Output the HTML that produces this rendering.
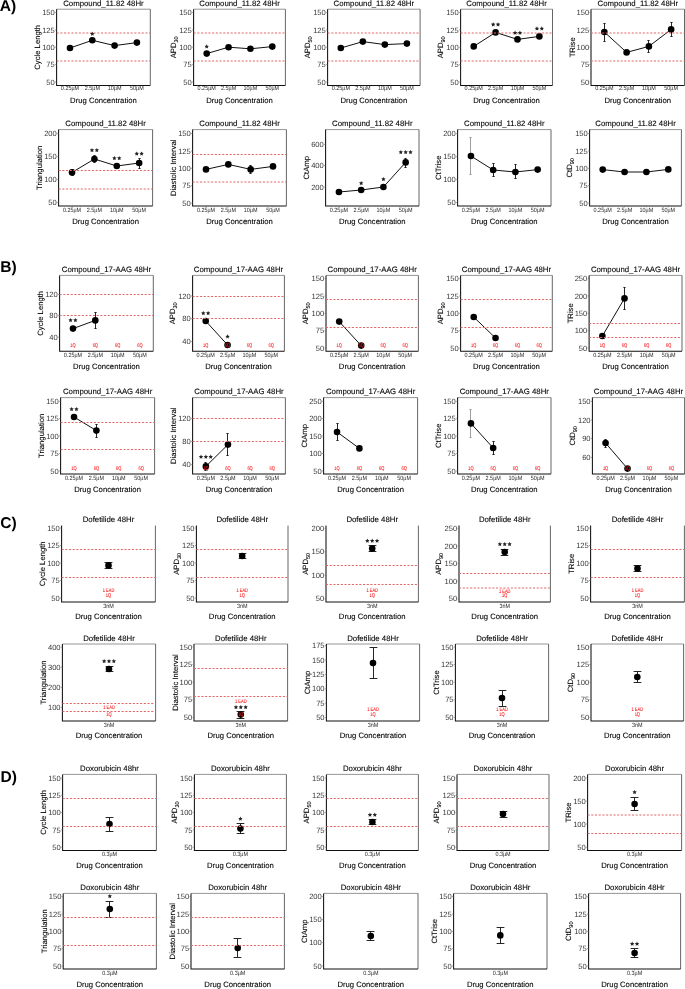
<!DOCTYPE html>
<html><head><meta charset="utf-8"><title>figure</title><style>
html,body{margin:0;padding:0;background:#fff;}
svg{display:block;will-change:transform;}
text{font-family:"Liberation Sans", sans-serif;text-rendering:geometricPrecision;}
.rd{stroke:#e26969;stroke-width:1;stroke-dasharray:2.1 1.6;}
.fr{stroke:#8a8a8a;stroke-width:0.9}
.fr2{stroke:#555;stroke-width:0.9}
.ax{stroke:#111;stroke-width:1.05;fill:none}
.tk{stroke:#666;stroke-width:0.6}
.tl{font-size:7.6px;fill:#383838;text-anchor:end}
.xl{font-size:5.45px;fill:#2a2a2a;text-anchor:middle}
.ti{font-size:7.8px;fill:#000;stroke:#000;stroke-width:0.1;text-anchor:middle}
.xt{font-size:7.7px;fill:#000;stroke:#000;stroke-width:0.1;text-anchor:middle}
.yt{font-size:7.7px;fill:#000;stroke:#000;stroke-width:0.1;text-anchor:middle}
.sb{font-size:5.6px}
.ln{stroke:#111;stroke-width:1;fill:none}
.eb{stroke:#1a1a1a;stroke-width:0.95;fill:none}
circle{fill:#000}
.st{font-size:10.5px;fill:#111;text-anchor:middle;letter-spacing:1.1px}
.q{font-size:4.0px;fill:#ff1a1a;stroke:#ff1a1a;stroke-width:0.06;text-anchor:middle}
.lb{font-size:15.6px;font-weight:bold;fill:#000}
</style></head>
<body><svg width="685" height="989" viewBox="0 0 685 989">
<defs><polygon id="star" points="0.000,-2.070 0.676,-0.700 2.187,-0.481 1.094,0.585 1.352,2.091 0.000,1.380 -1.352,2.091 -1.094,0.585 -2.187,-0.481 -0.676,-0.700" fill="#262626"/></defs>
<g><line x1="56.6" y1="9.2" x2="150.3" y2="9.2" class="fr"/><line x1="150.3" y1="9.2" x2="150.3" y2="85.4" class="fr2"/><path d="M56.6 9.2V85.4H150.3" class="ax"/><line x1="55" y1="12.5" x2="56.6" y2="12.5" class="tk"/><text x="54.8" y="15.1" class="tl">150</text><line x1="55" y1="29.9" x2="56.6" y2="29.9" class="tk"/><text x="54.8" y="32.5" class="tl">125</text><line x1="55" y1="47.2" x2="56.6" y2="47.2" class="tk"/><text x="54.8" y="49.8" class="tl">100</text><line x1="55" y1="64.6" x2="56.6" y2="64.6" class="tk"/><text x="54.8" y="67.2" class="tl">75</text><line x1="55" y1="82" x2="56.6" y2="82" class="tk"/><text x="54.8" y="84.6" class="tl">50</text><line x1="69.99" y1="85.4" x2="69.99" y2="86.8" class="tk"/><text transform="translate(69.99,90.3) scale(1,1.12)" class="xl">0.25µM</text><line x1="92.3" y1="85.4" x2="92.3" y2="86.8" class="tk"/><text transform="translate(92.3,90.3) scale(1,1.12)" class="xl">2.5µM</text><line x1="114.6" y1="85.4" x2="114.6" y2="86.8" class="tk"/><text transform="translate(114.6,90.3) scale(1,1.12)" class="xl">10µM</text><line x1="136.91" y1="85.4" x2="136.91" y2="86.8" class="tk"/><text transform="translate(136.91,90.3) scale(1,1.12)" class="xl">50µM</text><text x="103.45" y="5.8" class="ti">Compound_11.82 48Hr</text><text x="103.45" y="102.9" class="xt">Drug Concentration</text><text transform="translate(40.3,47.3) rotate(-90)" class="yt">Cycle Length</text><path d="M69.99 48 L92.3 40.3 L114.6 45.6 L136.91 42.6" class="ln"/><circle cx="69.99" cy="48" r="3.3"/><circle cx="92.3" cy="40.3" r="3.3"/><circle cx="114.6" cy="45.6" r="3.3"/><circle cx="136.91" cy="42.6" r="3.3"/><line x1="56.6" y1="33" x2="150.3" y2="33" class="rd"/><line x1="56.6" y1="61" x2="150.3" y2="61" class="rd"/><use href="#star" x="92.3" y="33.6"/></g>
<g><line x1="193.6" y1="9.2" x2="285.4" y2="9.2" class="fr"/><line x1="285.4" y1="9.2" x2="285.4" y2="85.4" class="fr2"/><path d="M193.6 9.2V85.4H285.4" class="ax"/><line x1="192" y1="12.5" x2="193.6" y2="12.5" class="tk"/><text x="191.8" y="15.1" class="tl">150</text><line x1="192" y1="29.9" x2="193.6" y2="29.9" class="tk"/><text x="191.8" y="32.5" class="tl">125</text><line x1="192" y1="47.2" x2="193.6" y2="47.2" class="tk"/><text x="191.8" y="49.8" class="tl">100</text><line x1="192" y1="64.6" x2="193.6" y2="64.6" class="tk"/><text x="191.8" y="67.2" class="tl">75</text><line x1="192" y1="82" x2="193.6" y2="82" class="tk"/><text x="191.8" y="84.6" class="tl">50</text><line x1="206.71" y1="85.4" x2="206.71" y2="86.8" class="tk"/><text transform="translate(206.71,90.3) scale(1,1.12)" class="xl">0.25µM</text><line x1="228.57" y1="85.4" x2="228.57" y2="86.8" class="tk"/><text transform="translate(228.57,90.3) scale(1,1.12)" class="xl">2.5µM</text><line x1="250.43" y1="85.4" x2="250.43" y2="86.8" class="tk"/><text transform="translate(250.43,90.3) scale(1,1.12)" class="xl">10µM</text><line x1="272.29" y1="85.4" x2="272.29" y2="86.8" class="tk"/><text transform="translate(272.29,90.3) scale(1,1.12)" class="xl">50µM</text><text x="239.5" y="5.8" class="ti">Compound_11.82 48Hr</text><text x="239.5" y="102.9" class="xt">Drug Concentration</text><text transform="translate(176,47.3) rotate(-90)" class="yt">APD<tspan class="sb" dy="1.8">30</tspan></text><path d="M206.71 53.6 L228.57 47.2 L250.43 48.8 L272.29 46.6" class="ln"/><circle cx="206.71" cy="53.6" r="3.3"/><circle cx="228.57" cy="47.2" r="3.3"/><circle cx="250.43" cy="48.8" r="3.3"/><circle cx="272.29" cy="46.6" r="3.3"/><line x1="193.6" y1="33" x2="285.4" y2="33" class="rd"/><line x1="193.6" y1="61" x2="285.4" y2="61" class="rd"/><use href="#star" x="206.71" y="46.4"/></g>
<g><line x1="327.6" y1="9.2" x2="420.1" y2="9.2" class="fr"/><line x1="420.1" y1="9.2" x2="420.1" y2="85.4" class="fr2"/><path d="M327.6 9.2V85.4H420.1" class="ax"/><line x1="326" y1="12.5" x2="327.6" y2="12.5" class="tk"/><text x="325.8" y="15.1" class="tl">150</text><line x1="326" y1="29.9" x2="327.6" y2="29.9" class="tk"/><text x="325.8" y="32.5" class="tl">125</text><line x1="326" y1="47.2" x2="327.6" y2="47.2" class="tk"/><text x="325.8" y="49.8" class="tl">100</text><line x1="326" y1="64.6" x2="327.6" y2="64.6" class="tk"/><text x="325.8" y="67.2" class="tl">75</text><line x1="326" y1="82" x2="327.6" y2="82" class="tk"/><text x="325.8" y="84.6" class="tl">50</text><line x1="340.81" y1="85.4" x2="340.81" y2="86.8" class="tk"/><text transform="translate(340.81,90.3) scale(1,1.12)" class="xl">0.25µM</text><line x1="362.84" y1="85.4" x2="362.84" y2="86.8" class="tk"/><text transform="translate(362.84,90.3) scale(1,1.12)" class="xl">2.5µM</text><line x1="384.86" y1="85.4" x2="384.86" y2="86.8" class="tk"/><text transform="translate(384.86,90.3) scale(1,1.12)" class="xl">10µM</text><line x1="406.89" y1="85.4" x2="406.89" y2="86.8" class="tk"/><text transform="translate(406.89,90.3) scale(1,1.12)" class="xl">50µM</text><text x="373.85" y="5.8" class="ti">Compound_11.82 48Hr</text><text x="373.85" y="102.9" class="xt">Drug Concentration</text><text transform="translate(310,47.3) rotate(-90)" class="yt">APD<tspan class="sb" dy="1.8">50</tspan></text><path d="M340.81 48 L362.84 41.6 L384.86 44.6 L406.89 43.6" class="ln"/><circle cx="340.81" cy="48" r="3.3"/><circle cx="362.84" cy="41.6" r="3.3"/><circle cx="384.86" cy="44.6" r="3.3"/><circle cx="406.89" cy="43.6" r="3.3"/><line x1="327.6" y1="33" x2="420.1" y2="33" class="rd"/><line x1="327.6" y1="61" x2="420.1" y2="61" class="rd"/></g>
<g><line x1="460.6" y1="9.2" x2="552.5" y2="9.2" class="fr"/><line x1="552.5" y1="9.2" x2="552.5" y2="85.4" class="fr2"/><path d="M460.6 9.2V85.4H552.5" class="ax"/><line x1="459" y1="12.5" x2="460.6" y2="12.5" class="tk"/><text x="458.8" y="15.1" class="tl">150</text><line x1="459" y1="29.9" x2="460.6" y2="29.9" class="tk"/><text x="458.8" y="32.5" class="tl">125</text><line x1="459" y1="47.2" x2="460.6" y2="47.2" class="tk"/><text x="458.8" y="49.8" class="tl">100</text><line x1="459" y1="64.6" x2="460.6" y2="64.6" class="tk"/><text x="458.8" y="67.2" class="tl">75</text><line x1="459" y1="82" x2="460.6" y2="82" class="tk"/><text x="458.8" y="84.6" class="tl">50</text><line x1="473.73" y1="85.4" x2="473.73" y2="86.8" class="tk"/><text transform="translate(473.73,90.3) scale(1,1.12)" class="xl">0.25µM</text><line x1="495.61" y1="85.4" x2="495.61" y2="86.8" class="tk"/><text transform="translate(495.61,90.3) scale(1,1.12)" class="xl">2.5µM</text><line x1="517.49" y1="85.4" x2="517.49" y2="86.8" class="tk"/><text transform="translate(517.49,90.3) scale(1,1.12)" class="xl">10µM</text><line x1="539.37" y1="85.4" x2="539.37" y2="86.8" class="tk"/><text transform="translate(539.37,90.3) scale(1,1.12)" class="xl">50µM</text><text x="506.55" y="5.8" class="ti">Compound_11.82 48Hr</text><text x="506.55" y="102.9" class="xt">Drug Concentration</text><text transform="translate(443,47.3) rotate(-90)" class="yt">APD<tspan class="sb" dy="1.8">90</tspan></text><path d="M473.73 46.4 L495.61 32.4 L517.49 39.4 L539.37 36.4" class="ln"/><circle cx="473.73" cy="46.4" r="3.3"/><circle cx="495.61" cy="32.4" r="3.3"/><circle cx="517.49" cy="39.4" r="3.3"/><circle cx="539.37" cy="36.4" r="3.3"/><line x1="460.6" y1="33" x2="552.5" y2="33" class="rd"/><line x1="460.6" y1="61" x2="552.5" y2="61" class="rd"/><use href="#star" x="493.18" y="24.3"/><use href="#star" x="498.03" y="24.3"/><use href="#star" x="515.07" y="32.6"/><use href="#star" x="519.92" y="32.6"/><use href="#star" x="536.95" y="28.4"/><use href="#star" x="541.8" y="28.4"/></g>
<g><line x1="591" y1="9.2" x2="684.5" y2="9.2" class="fr"/><line x1="684.5" y1="9.2" x2="684.5" y2="85.4" class="fr2"/><path d="M591 9.2V85.4H684.5" class="ax"/><line x1="589.4" y1="12.5" x2="591" y2="12.5" class="tk"/><text x="589.2" y="15.1" class="tl">150</text><line x1="589.4" y1="29.9" x2="591" y2="29.9" class="tk"/><text x="589.2" y="32.5" class="tl">125</text><line x1="589.4" y1="47.2" x2="591" y2="47.2" class="tk"/><text x="589.2" y="49.8" class="tl">100</text><line x1="589.4" y1="64.6" x2="591" y2="64.6" class="tk"/><text x="589.2" y="67.2" class="tl">75</text><line x1="589.4" y1="82" x2="591" y2="82" class="tk"/><text x="589.2" y="84.6" class="tl">50</text><line x1="604.36" y1="85.4" x2="604.36" y2="86.8" class="tk"/><text transform="translate(604.36,90.3) scale(1,1.12)" class="xl">0.25µM</text><line x1="626.62" y1="85.4" x2="626.62" y2="86.8" class="tk"/><text transform="translate(626.62,90.3) scale(1,1.12)" class="xl">2.5µM</text><line x1="648.88" y1="85.4" x2="648.88" y2="86.8" class="tk"/><text transform="translate(648.88,90.3) scale(1,1.12)" class="xl">10µM</text><line x1="671.14" y1="85.4" x2="671.14" y2="86.8" class="tk"/><text transform="translate(671.14,90.3) scale(1,1.12)" class="xl">50µM</text><text x="637.75" y="5.8" class="ti">Compound_11.82 48Hr</text><text x="637.75" y="102.9" class="xt">Drug Concentration</text><text transform="translate(574.7,47.3) rotate(-90)" class="yt">TRise</text><path d="M604.36 32 L626.62 52.4 L648.88 46.4 L671.14 29.4" class="ln"/><path d="M603.39 23.5H605.61M604.5 23.5V41.5M603.39 41.5H605.61" class="eb"/><path d="M647.39 40.5H649.61M648.5 40.5V52.5M647.39 52.5H649.61" class="eb"/><path d="M670.39 22.5H672.61M671.5 22.5V36.5M670.39 36.5H672.61" class="eb"/><circle cx="604.36" cy="32" r="3.3"/><circle cx="626.62" cy="52.4" r="3.3"/><circle cx="648.88" cy="46.4" r="3.3"/><circle cx="671.14" cy="29.4" r="3.3"/><line x1="591" y1="33" x2="684.5" y2="33" class="rd"/><line x1="591" y1="61" x2="684.5" y2="61" class="rd"/></g>
<g><line x1="58.6" y1="129.6" x2="152.6" y2="129.6" class="fr"/><line x1="152.6" y1="129.6" x2="152.6" y2="206" class="fr2"/><path d="M58.6 129.6V206H152.6" class="ax"/><line x1="57" y1="133.6" x2="58.6" y2="133.6" class="tk"/><text x="56.8" y="136.2" class="tl">200</text><line x1="57" y1="156.6" x2="58.6" y2="156.6" class="tk"/><text x="56.8" y="159.2" class="tl">150</text><line x1="57" y1="179.6" x2="58.6" y2="179.6" class="tk"/><text x="56.8" y="182.2" class="tl">100</text><line x1="57" y1="202.6" x2="58.6" y2="202.6" class="tk"/><text x="56.8" y="205.2" class="tl">50</text><line x1="72.03" y1="206" x2="72.03" y2="207.4" class="tk"/><text transform="translate(72.03,211.7) scale(1,1.12)" class="xl">0.25µM</text><line x1="94.41" y1="206" x2="94.41" y2="207.4" class="tk"/><text transform="translate(94.41,211.7) scale(1,1.12)" class="xl">2.5µM</text><line x1="116.79" y1="206" x2="116.79" y2="207.4" class="tk"/><text transform="translate(116.79,211.7) scale(1,1.12)" class="xl">10µM</text><line x1="139.17" y1="206" x2="139.17" y2="207.4" class="tk"/><text transform="translate(139.17,211.7) scale(1,1.12)" class="xl">50µM</text><text x="105.6" y="126.2" class="ti">Compound_11.82 48Hr</text><text x="105.6" y="223.5" class="xt">Drug Concentration</text><text transform="translate(42.3,167.8) rotate(-90)" class="yt">Triangulation</text><path d="M72.03 172.4 L94.41 159 L116.79 166 L139.17 163" class="ln"/><path d="M71.38 169.5H73.62M72.5 169.5V175.5M71.38 175.5H73.62" class="eb"/><path d="M93.38 155.5H95.62M94.5 155.5V162.5M93.38 162.5H95.62" class="eb"/><path d="M138.38 158.5H140.62M139.5 158.5V168.5M138.38 168.5H140.62" class="eb"/><circle cx="72.03" cy="172.4" r="3.3"/><circle cx="94.41" cy="159" r="3.3"/><circle cx="116.79" cy="166" r="3.3"/><circle cx="139.17" cy="163" r="3.3"/><line x1="58.6" y1="170.5" x2="152.6" y2="170.5" class="rd"/><line x1="58.6" y1="189" x2="152.6" y2="189" class="rd"/><use href="#star" x="91.98" y="150"/><use href="#star" x="96.83" y="150"/><use href="#star" x="114.37" y="158"/><use href="#star" x="119.22" y="158"/><use href="#star" x="136.75" y="153.5"/><use href="#star" x="141.6" y="153.5"/></g>
<g><line x1="192.6" y1="129.6" x2="286.4" y2="129.6" class="fr"/><line x1="286.4" y1="129.6" x2="286.4" y2="206" class="fr2"/><path d="M192.6 129.6V206H286.4" class="ax"/><line x1="191" y1="133.6" x2="192.6" y2="133.6" class="tk"/><text x="190.8" y="136.2" class="tl">150</text><line x1="191" y1="151" x2="192.6" y2="151" class="tk"/><text x="190.8" y="153.6" class="tl">125</text><line x1="191" y1="168.3" x2="192.6" y2="168.3" class="tk"/><text x="190.8" y="170.9" class="tl">100</text><line x1="191" y1="185.7" x2="192.6" y2="185.7" class="tk"/><text x="190.8" y="188.3" class="tl">75</text><line x1="191" y1="203" x2="192.6" y2="203" class="tk"/><text x="190.8" y="205.6" class="tl">50</text><line x1="206" y1="206" x2="206" y2="207.4" class="tk"/><text transform="translate(206,211.7) scale(1,1.12)" class="xl">0.25µM</text><line x1="228.33" y1="206" x2="228.33" y2="207.4" class="tk"/><text transform="translate(228.33,211.7) scale(1,1.12)" class="xl">2.5µM</text><line x1="250.67" y1="206" x2="250.67" y2="207.4" class="tk"/><text transform="translate(250.67,211.7) scale(1,1.12)" class="xl">10µM</text><line x1="273" y1="206" x2="273" y2="207.4" class="tk"/><text transform="translate(273,211.7) scale(1,1.12)" class="xl">50µM</text><text x="239.5" y="126.2" class="ti">Compound_11.82 48Hr</text><text x="239.5" y="223.5" class="xt">Drug Concentration</text><text transform="translate(176.3,167.8) rotate(-90)" class="yt">Diastolic Interval</text><path d="M206 169.4 L228.33 164.4 L250.67 169.4 L273 166.4" class="ln"/><path d="M249.38 165.5H251.62M250.5 165.5V173.5M249.38 173.5H251.62" class="eb"/><circle cx="206" cy="169.4" r="3.3"/><circle cx="228.33" cy="164.4" r="3.3"/><circle cx="250.67" cy="169.4" r="3.3"/><circle cx="273" cy="166.4" r="3.3"/><line x1="192.6" y1="154.5" x2="286.4" y2="154.5" class="rd"/><line x1="192.6" y1="182" x2="286.4" y2="182" class="rd"/></g>
<g><line x1="325.6" y1="129.6" x2="419" y2="129.6" class="fr"/><line x1="419" y1="129.6" x2="419" y2="206" class="fr2"/><path d="M325.6 129.6V206H419" class="ax"/><line x1="324" y1="144.4" x2="325.6" y2="144.4" class="tk"/><text x="323.8" y="147" class="tl">600</text><line x1="324" y1="165.6" x2="325.6" y2="165.6" class="tk"/><text x="323.8" y="168.2" class="tl">400</text><line x1="324" y1="187" x2="325.6" y2="187" class="tk"/><text x="323.8" y="189.6" class="tl">200</text><line x1="338.94" y1="206" x2="338.94" y2="207.4" class="tk"/><text transform="translate(338.94,211.7) scale(1,1.12)" class="xl">0.25µM</text><line x1="361.18" y1="206" x2="361.18" y2="207.4" class="tk"/><text transform="translate(361.18,211.7) scale(1,1.12)" class="xl">2.5µM</text><line x1="383.42" y1="206" x2="383.42" y2="207.4" class="tk"/><text transform="translate(383.42,211.7) scale(1,1.12)" class="xl">10µM</text><line x1="405.66" y1="206" x2="405.66" y2="207.4" class="tk"/><text transform="translate(405.66,211.7) scale(1,1.12)" class="xl">50µM</text><text x="372.3" y="126.2" class="ti">Compound_11.82 48Hr</text><text x="372.3" y="223.5" class="xt">Drug Concentration</text><text transform="translate(309.3,167.8) rotate(-90)" class="yt">CtAmp</text><path d="M338.94 192 L361.18 190 L383.42 187 L405.66 162.4" class="ln"/><path d="M404.39 158.5H406.61M405.5 158.5V167.5M404.39 167.5H406.61" class="eb"/><circle cx="338.94" cy="192" r="3.3"/><circle cx="361.18" cy="190" r="3.3"/><circle cx="383.42" cy="187" r="3.3"/><circle cx="405.66" cy="162.4" r="3.3"/><use href="#star" x="361.18" y="183"/><use href="#star" x="383.42" y="179"/><use href="#star" x="400.81" y="152"/><use href="#star" x="405.66" y="152"/><use href="#star" x="410.51" y="152"/></g>
<g><line x1="457.6" y1="129.6" x2="551" y2="129.6" class="fr"/><line x1="551" y1="129.6" x2="551" y2="206" class="fr2"/><path d="M457.6 129.6V206H551" class="ax"/><line x1="456" y1="133.6" x2="457.6" y2="133.6" class="tk"/><text x="455.8" y="136.2" class="tl">200</text><line x1="456" y1="156.6" x2="457.6" y2="156.6" class="tk"/><text x="455.8" y="159.2" class="tl">150</text><line x1="456" y1="179.6" x2="457.6" y2="179.6" class="tk"/><text x="455.8" y="182.2" class="tl">100</text><line x1="456" y1="202.6" x2="457.6" y2="202.6" class="tk"/><text x="455.8" y="205.2" class="tl">50</text><line x1="470.94" y1="206" x2="470.94" y2="207.4" class="tk"/><text transform="translate(470.94,211.7) scale(1,1.12)" class="xl">0.25µM</text><line x1="493.18" y1="206" x2="493.18" y2="207.4" class="tk"/><text transform="translate(493.18,211.7) scale(1,1.12)" class="xl">2.5µM</text><line x1="515.42" y1="206" x2="515.42" y2="207.4" class="tk"/><text transform="translate(515.42,211.7) scale(1,1.12)" class="xl">10µM</text><line x1="537.66" y1="206" x2="537.66" y2="207.4" class="tk"/><text transform="translate(537.66,211.7) scale(1,1.12)" class="xl">50µM</text><text x="504.3" y="126.2" class="ti">Compound_11.82 48Hr</text><text x="504.3" y="223.5" class="xt">Drug Concentration</text><text transform="translate(441.3,167.8) rotate(-90)" class="yt">CtTrise</text><path d="M470.94 156 L493.18 170 L515.42 172 L537.66 169.6" class="ln"/><path d="M469.39 137.5H471.61M470.5 137.5V174.5M469.39 174.5H471.61" class="eb" style="stroke:#999"/><path d="M492.39 163.5H494.61M493.5 163.5V176.5M492.39 176.5H494.61" class="eb"/><path d="M514.39 164.5H516.61M515.5 164.5V178.5M514.39 178.5H516.61" class="eb"/><circle cx="470.94" cy="156" r="3.3"/><circle cx="493.18" cy="170" r="3.3"/><circle cx="515.42" cy="172" r="3.3"/><circle cx="537.66" cy="169.6" r="3.3"/></g>
<g><line x1="589.6" y1="129.6" x2="681.4" y2="129.6" class="fr"/><line x1="681.4" y1="129.6" x2="681.4" y2="206" class="fr2"/><path d="M589.6 129.6V206H681.4" class="ax"/><line x1="588" y1="133.6" x2="589.6" y2="133.6" class="tk"/><text x="587.8" y="136.2" class="tl">150</text><line x1="588" y1="151" x2="589.6" y2="151" class="tk"/><text x="587.8" y="153.6" class="tl">125</text><line x1="588" y1="168.3" x2="589.6" y2="168.3" class="tk"/><text x="587.8" y="170.9" class="tl">100</text><line x1="588" y1="185.7" x2="589.6" y2="185.7" class="tk"/><text x="587.8" y="188.3" class="tl">75</text><line x1="588" y1="203" x2="589.6" y2="203" class="tk"/><text x="587.8" y="205.6" class="tl">50</text><line x1="602.71" y1="206" x2="602.71" y2="207.4" class="tk"/><text transform="translate(602.71,211.7) scale(1,1.12)" class="xl">0.25µM</text><line x1="624.57" y1="206" x2="624.57" y2="207.4" class="tk"/><text transform="translate(624.57,211.7) scale(1,1.12)" class="xl">2.5µM</text><line x1="646.43" y1="206" x2="646.43" y2="207.4" class="tk"/><text transform="translate(646.43,211.7) scale(1,1.12)" class="xl">10µM</text><line x1="668.29" y1="206" x2="668.29" y2="207.4" class="tk"/><text transform="translate(668.29,211.7) scale(1,1.12)" class="xl">50µM</text><text x="635.5" y="126.2" class="ti">Compound_11.82 48Hr</text><text x="635.5" y="223.5" class="xt">Drug Concentration</text><text transform="translate(572,167.8) rotate(-90)" class="yt">CtD<tspan class="sb" dy="1.8">90</tspan></text><path d="M602.71 169.6 L624.57 172 L646.43 172 L668.29 169.4" class="ln"/><circle cx="602.71" cy="169.6" r="3.3"/><circle cx="624.57" cy="172" r="3.3"/><circle cx="646.43" cy="172" r="3.3"/><circle cx="668.29" cy="169.4" r="3.3"/></g>
<g><line x1="59.6" y1="275.4" x2="153.3" y2="275.4" class="fr"/><line x1="153.3" y1="275.4" x2="153.3" y2="351.2" class="fr2"/><path d="M59.6 275.4V351.2H153.3" class="ax"/><line x1="58" y1="294.4" x2="59.6" y2="294.4" class="tk"/><text x="57.8" y="297" class="tl">120</text><line x1="58" y1="315.6" x2="59.6" y2="315.6" class="tk"/><text x="57.8" y="318.2" class="tl">80</text><line x1="58" y1="337" x2="59.6" y2="337" class="tk"/><text x="57.8" y="339.6" class="tl">40</text><line x1="72.99" y1="351.2" x2="72.99" y2="352.6" class="tk"/><text transform="translate(72.99,356.9) scale(1,1.12)" class="xl">0.25µM</text><line x1="95.3" y1="351.2" x2="95.3" y2="352.6" class="tk"/><text transform="translate(95.3,356.9) scale(1,1.12)" class="xl">2.5µM</text><line x1="117.6" y1="351.2" x2="117.6" y2="352.6" class="tk"/><text transform="translate(117.6,356.9) scale(1,1.12)" class="xl">10µM</text><line x1="139.91" y1="351.2" x2="139.91" y2="352.6" class="tk"/><text transform="translate(139.91,356.9) scale(1,1.12)" class="xl">50µM</text><text x="106.45" y="272" class="ti">Compound_17-AAG 48Hr</text><text x="106.45" y="368.7" class="xt">Drug Concentration</text><text transform="translate(43.3,313.3) rotate(-90)" class="yt">Cycle Length</text><path d="M72.99 328.6 L95.3 320.4" class="ln"/><path d="M94.38 312.5H96.62M95.5 312.5V328.5M94.38 328.5H96.62" class="eb"/><circle cx="72.99" cy="328.6" r="3.3"/><circle cx="95.3" cy="320.4" r="3.3"/><line x1="59.6" y1="294.5" x2="153.3" y2="294.5" class="rd"/><line x1="59.6" y1="315.5" x2="153.3" y2="315.5" class="rd"/><use href="#star" x="70.56" y="320"/><use href="#star" x="75.41" y="320"/><text transform="translate(72.99,346.5) scale(1,1.3)" class="q">1Q</text><text transform="translate(95.3,346.5) scale(1,1.3)" class="q">6Q</text><text transform="translate(117.6,346.5) scale(1,1.3)" class="q">6Q</text><text transform="translate(139.91,346.5) scale(1,1.3)" class="q">6Q</text></g>
<g><line x1="192.6" y1="275.4" x2="284.4" y2="275.4" class="fr"/><line x1="284.4" y1="275.4" x2="284.4" y2="351.2" class="fr2"/><path d="M192.6 275.4V351.2H284.4" class="ax"/><line x1="191" y1="296" x2="192.6" y2="296" class="tk"/><text x="190.8" y="298.6" class="tl">120</text><line x1="191" y1="318.6" x2="192.6" y2="318.6" class="tk"/><text x="190.8" y="321.2" class="tl">80</text><line x1="191" y1="341.6" x2="192.6" y2="341.6" class="tk"/><text x="190.8" y="344.2" class="tl">40</text><line x1="205.71" y1="351.2" x2="205.71" y2="352.6" class="tk"/><text transform="translate(205.71,356.9) scale(1,1.12)" class="xl">0.25µM</text><line x1="227.57" y1="351.2" x2="227.57" y2="352.6" class="tk"/><text transform="translate(227.57,356.9) scale(1,1.12)" class="xl">2.5µM</text><line x1="249.43" y1="351.2" x2="249.43" y2="352.6" class="tk"/><text transform="translate(249.43,356.9) scale(1,1.12)" class="xl">10µM</text><line x1="271.29" y1="351.2" x2="271.29" y2="352.6" class="tk"/><text transform="translate(271.29,356.9) scale(1,1.12)" class="xl">50µM</text><text x="238.5" y="272" class="ti">Compound_17-AAG 48Hr</text><text x="238.5" y="368.7" class="xt">Drug Concentration</text><text transform="translate(175,313.3) rotate(-90)" class="yt">APD<tspan class="sb" dy="1.8">30</tspan></text><path d="M205.71 321 L227.57 345" class="ln"/><circle cx="205.71" cy="321" r="3.3"/><circle cx="227.57" cy="345" r="3.3"/><line x1="192.6" y1="296.5" x2="284.4" y2="296.5" class="rd"/><line x1="192.6" y1="318.5" x2="284.4" y2="318.5" class="rd"/><use href="#star" x="203.29" y="313"/><use href="#star" x="208.14" y="313"/><use href="#star" x="227.57" y="336.4"/><text transform="translate(205.71,346.5) scale(1,1.3)" class="q">1Q</text><text transform="translate(227.57,346.5) scale(1,1.3)" class="q">6Q</text><text transform="translate(249.43,346.5) scale(1,1.3)" class="q">6Q</text><text transform="translate(271.29,346.5) scale(1,1.3)" class="q">6Q</text></g>
<g><line x1="326" y1="275.4" x2="418.4" y2="275.4" class="fr"/><line x1="418.4" y1="275.4" x2="418.4" y2="351.2" class="fr2"/><path d="M326 275.4V351.2H418.4" class="ax"/><line x1="324.4" y1="278.6" x2="326" y2="278.6" class="tk"/><text x="324.2" y="281.2" class="tl">150</text><line x1="324.4" y1="296" x2="326" y2="296" class="tk"/><text x="324.2" y="298.6" class="tl">125</text><line x1="324.4" y1="313.4" x2="326" y2="313.4" class="tk"/><text x="324.2" y="316" class="tl">100</text><line x1="324.4" y1="330.8" x2="326" y2="330.8" class="tk"/><text x="324.2" y="333.4" class="tl">75</text><line x1="324.4" y1="348" x2="326" y2="348" class="tk"/><text x="324.2" y="350.6" class="tl">50</text><line x1="339.2" y1="351.2" x2="339.2" y2="352.6" class="tk"/><text transform="translate(339.2,356.9) scale(1,1.12)" class="xl">0.25µM</text><line x1="361.2" y1="351.2" x2="361.2" y2="352.6" class="tk"/><text transform="translate(361.2,356.9) scale(1,1.12)" class="xl">2.5µM</text><line x1="383.2" y1="351.2" x2="383.2" y2="352.6" class="tk"/><text transform="translate(383.2,356.9) scale(1,1.12)" class="xl">10µM</text><line x1="405.2" y1="351.2" x2="405.2" y2="352.6" class="tk"/><text transform="translate(405.2,356.9) scale(1,1.12)" class="xl">50µM</text><text x="372.2" y="272" class="ti">Compound_17-AAG 48Hr</text><text x="372.2" y="368.7" class="xt">Drug Concentration</text><text transform="translate(308.4,313.3) rotate(-90)" class="yt">APD<tspan class="sb" dy="1.8">50</tspan></text><path d="M339.2 321.6 L361.2 345.6" class="ln"/><circle cx="339.2" cy="321.6" r="3.3"/><circle cx="361.2" cy="345.6" r="3.3"/><line x1="326" y1="299.5" x2="418.4" y2="299.5" class="rd"/><line x1="326" y1="327.5" x2="418.4" y2="327.5" class="rd"/><text transform="translate(339.2,346.5) scale(1,1.3)" class="q">1Q</text><text transform="translate(361.2,346.5) scale(1,1.3)" class="q">6Q</text><text transform="translate(383.2,346.5) scale(1,1.3)" class="q">6Q</text><text transform="translate(405.2,346.5) scale(1,1.3)" class="q">6Q</text></g>
<g><line x1="460.6" y1="275.4" x2="552.3" y2="275.4" class="fr"/><line x1="552.3" y1="275.4" x2="552.3" y2="351.2" class="fr2"/><path d="M460.6 275.4V351.2H552.3" class="ax"/><line x1="459" y1="278.6" x2="460.6" y2="278.6" class="tk"/><text x="458.8" y="281.2" class="tl">150</text><line x1="459" y1="296" x2="460.6" y2="296" class="tk"/><text x="458.8" y="298.6" class="tl">125</text><line x1="459" y1="313.4" x2="460.6" y2="313.4" class="tk"/><text x="458.8" y="316" class="tl">100</text><line x1="459" y1="330.8" x2="460.6" y2="330.8" class="tk"/><text x="458.8" y="333.4" class="tl">75</text><line x1="459" y1="348" x2="460.6" y2="348" class="tk"/><text x="458.8" y="350.6" class="tl">50</text><line x1="473.7" y1="351.2" x2="473.7" y2="352.6" class="tk"/><text transform="translate(473.7,356.9) scale(1,1.12)" class="xl">0.25µM</text><line x1="495.53" y1="351.2" x2="495.53" y2="352.6" class="tk"/><text transform="translate(495.53,356.9) scale(1,1.12)" class="xl">2.5µM</text><line x1="517.37" y1="351.2" x2="517.37" y2="352.6" class="tk"/><text transform="translate(517.37,356.9) scale(1,1.12)" class="xl">10µM</text><line x1="539.2" y1="351.2" x2="539.2" y2="352.6" class="tk"/><text transform="translate(539.2,356.9) scale(1,1.12)" class="xl">50µM</text><text x="506.45" y="272" class="ti">Compound_17-AAG 48Hr</text><text x="506.45" y="368.7" class="xt">Drug Concentration</text><text transform="translate(443,313.3) rotate(-90)" class="yt">APD<tspan class="sb" dy="1.8">90</tspan></text><path d="M473.7 317 L495.53 338" class="ln"/><circle cx="473.7" cy="317" r="3.3"/><circle cx="495.53" cy="338" r="3.3"/><line x1="460.6" y1="299.5" x2="552.3" y2="299.5" class="rd"/><line x1="460.6" y1="327.5" x2="552.3" y2="327.5" class="rd"/><text transform="translate(473.7,346.5) scale(1,1.3)" class="q">1Q</text><text transform="translate(495.53,346.5) scale(1,1.3)" class="q">6Q</text><text transform="translate(517.37,346.5) scale(1,1.3)" class="q">6Q</text><text transform="translate(539.2,346.5) scale(1,1.3)" class="q">6Q</text></g>
<g><line x1="589.1" y1="275.4" x2="682" y2="275.4" class="fr"/><line x1="682" y1="275.4" x2="682" y2="351.2" class="fr2"/><path d="M589.1 275.4V351.2H682" class="ax"/><line x1="587.5" y1="278.6" x2="589.1" y2="278.6" class="tk"/><text x="587.3" y="281.2" class="tl">250</text><line x1="587.5" y1="296" x2="589.1" y2="296" class="tk"/><text x="587.3" y="298.6" class="tl">200</text><line x1="587.5" y1="313.4" x2="589.1" y2="313.4" class="tk"/><text x="587.3" y="316" class="tl">150</text><line x1="587.5" y1="330.8" x2="589.1" y2="330.8" class="tk"/><text x="587.3" y="333.4" class="tl">100</text><line x1="587.5" y1="348" x2="589.1" y2="348" class="tk"/><text x="587.3" y="350.6" class="tl">50</text><line x1="602.37" y1="351.2" x2="602.37" y2="352.6" class="tk"/><text transform="translate(602.37,356.9) scale(1,1.12)" class="xl">0.25µM</text><line x1="624.49" y1="351.2" x2="624.49" y2="352.6" class="tk"/><text transform="translate(624.49,356.9) scale(1,1.12)" class="xl">2.5µM</text><line x1="646.61" y1="351.2" x2="646.61" y2="352.6" class="tk"/><text transform="translate(646.61,356.9) scale(1,1.12)" class="xl">10µM</text><line x1="668.73" y1="351.2" x2="668.73" y2="352.6" class="tk"/><text transform="translate(668.73,356.9) scale(1,1.12)" class="xl">50µM</text><text x="635.55" y="272" class="ti">Compound_17-AAG 48Hr</text><text x="635.55" y="368.7" class="xt">Drug Concentration</text><text transform="translate(572.8,313.3) rotate(-90)" class="yt">TRise</text><path d="M602.37 336 L624.49 298.4" class="ln"/><path d="M623.39 287.5H625.61M624.5 287.5V309.5M623.39 309.5H625.61" class="eb"/><circle cx="602.37" cy="336" r="3.3"/><circle cx="624.49" cy="298.4" r="3.3"/><line x1="589.1" y1="323.5" x2="682" y2="323.5" class="rd"/><line x1="589.1" y1="337.5" x2="682" y2="337.5" class="rd"/><text transform="translate(602.37,346.5) scale(1,1.3)" class="q">1Q</text><text transform="translate(624.49,346.5) scale(1,1.3)" class="q">6Q</text><text transform="translate(646.61,346.5) scale(1,1.3)" class="q">6Q</text><text transform="translate(668.73,346.5) scale(1,1.3)" class="q">6Q</text></g>
<g><line x1="60.6" y1="397.6" x2="154.6" y2="397.6" class="fr"/><line x1="154.6" y1="397.6" x2="154.6" y2="474" class="fr2"/><path d="M60.6 397.6V474H154.6" class="ax"/><line x1="59" y1="401.4" x2="60.6" y2="401.4" class="tk"/><text x="58.8" y="404" class="tl">150</text><line x1="59" y1="418.7" x2="60.6" y2="418.7" class="tk"/><text x="58.8" y="421.3" class="tl">125</text><line x1="59" y1="436" x2="60.6" y2="436" class="tk"/><text x="58.8" y="438.6" class="tl">100</text><line x1="59" y1="453.5" x2="60.6" y2="453.5" class="tk"/><text x="58.8" y="456.1" class="tl">75</text><line x1="59" y1="471" x2="60.6" y2="471" class="tk"/><text x="58.8" y="473.6" class="tl">50</text><line x1="74.03" y1="474" x2="74.03" y2="475.4" class="tk"/><text transform="translate(74.03,479.7) scale(1,1.12)" class="xl">0.25µM</text><line x1="96.41" y1="474" x2="96.41" y2="475.4" class="tk"/><text transform="translate(96.41,479.7) scale(1,1.12)" class="xl">2.5µM</text><line x1="118.79" y1="474" x2="118.79" y2="475.4" class="tk"/><text transform="translate(118.79,479.7) scale(1,1.12)" class="xl">10µM</text><line x1="141.17" y1="474" x2="141.17" y2="475.4" class="tk"/><text transform="translate(141.17,479.7) scale(1,1.12)" class="xl">50µM</text><text x="107.6" y="394.2" class="ti">Compound_17-AAG 48Hr</text><text x="107.6" y="491.5" class="xt">Drug Concentration</text><text transform="translate(44.3,435.8) rotate(-90)" class="yt">Triangulation</text><path d="M74.03 417 L96.41 430.6" class="ln"/><path d="M95.38 424.5H97.62M96.5 424.5V437.5M95.38 437.5H97.62" class="eb"/><circle cx="74.03" cy="417" r="3.3"/><circle cx="96.41" cy="430.6" r="3.3"/><line x1="60.6" y1="422.5" x2="154.6" y2="422.5" class="rd"/><line x1="60.6" y1="449.5" x2="154.6" y2="449.5" class="rd"/><use href="#star" x="71.6" y="409"/><use href="#star" x="76.45" y="409"/><text transform="translate(74.03,469.5) scale(1,1.3)" class="q">1Q</text><text transform="translate(96.41,469.5) scale(1,1.3)" class="q">6Q</text><text transform="translate(118.79,469.5) scale(1,1.3)" class="q">6Q</text><text transform="translate(141.17,469.5) scale(1,1.3)" class="q">6Q</text></g>
<g><line x1="192.6" y1="397.6" x2="285.4" y2="397.6" class="fr"/><line x1="285.4" y1="397.6" x2="285.4" y2="474" class="fr2"/><path d="M192.6 397.6V474H285.4" class="ax"/><line x1="191" y1="418.4" x2="192.6" y2="418.4" class="tk"/><text x="190.8" y="421" class="tl">120</text><line x1="191" y1="441.4" x2="192.6" y2="441.4" class="tk"/><text x="190.8" y="444" class="tl">80</text><line x1="191" y1="464.6" x2="192.6" y2="464.6" class="tk"/><text x="190.8" y="467.2" class="tl">40</text><line x1="205.86" y1="474" x2="205.86" y2="475.4" class="tk"/><text transform="translate(205.86,479.7) scale(1,1.12)" class="xl">0.25µM</text><line x1="227.95" y1="474" x2="227.95" y2="475.4" class="tk"/><text transform="translate(227.95,479.7) scale(1,1.12)" class="xl">2.5µM</text><line x1="250.05" y1="474" x2="250.05" y2="475.4" class="tk"/><text transform="translate(250.05,479.7) scale(1,1.12)" class="xl">10µM</text><line x1="272.14" y1="474" x2="272.14" y2="475.4" class="tk"/><text transform="translate(272.14,479.7) scale(1,1.12)" class="xl">50µM</text><text x="239" y="394.2" class="ti">Compound_17-AAG 48Hr</text><text x="239" y="491.5" class="xt">Drug Concentration</text><text transform="translate(176.3,435.8) rotate(-90)" class="yt">Diastolic Interval</text><path d="M205.86 466.4 L227.95 444.6" class="ln"/><path d="M204.4 462.5H206.6M205.5 462.5V470.5M204.4 470.5H206.6" class="eb"/><path d="M226.4 433.5H228.6M227.5 433.5V455.5M226.4 455.5H228.6" class="eb"/><circle cx="205.86" cy="466.4" r="3.3"/><circle cx="227.95" cy="444.6" r="3.3"/><line x1="192.6" y1="418.5" x2="285.4" y2="418.5" class="rd"/><line x1="192.6" y1="441.5" x2="285.4" y2="441.5" class="rd"/><use href="#star" x="201.01" y="456.6"/><use href="#star" x="205.86" y="456.6"/><use href="#star" x="210.71" y="456.6"/><text transform="translate(205.86,469.5) scale(1,1.3)" class="q">1Q</text><text transform="translate(227.95,469.5) scale(1,1.3)" class="q">6Q</text><text transform="translate(250.05,469.5) scale(1,1.3)" class="q">6Q</text><text transform="translate(272.14,469.5) scale(1,1.3)" class="q">6Q</text></g>
<g><line x1="323.6" y1="397.6" x2="417.6" y2="397.6" class="fr"/><line x1="417.6" y1="397.6" x2="417.6" y2="474" class="fr2"/><path d="M323.6 397.6V474H417.6" class="ax"/><line x1="322" y1="401.4" x2="323.6" y2="401.4" class="tk"/><text x="321.8" y="404" class="tl">250</text><line x1="322" y1="418.7" x2="323.6" y2="418.7" class="tk"/><text x="321.8" y="421.3" class="tl">200</text><line x1="322" y1="436" x2="323.6" y2="436" class="tk"/><text x="321.8" y="438.6" class="tl">150</text><line x1="322" y1="453.5" x2="323.6" y2="453.5" class="tk"/><text x="321.8" y="456.1" class="tl">100</text><line x1="322" y1="471" x2="323.6" y2="471" class="tk"/><text x="321.8" y="473.6" class="tl">50</text><line x1="337.03" y1="474" x2="337.03" y2="475.4" class="tk"/><text transform="translate(337.03,479.7) scale(1,1.12)" class="xl">0.25µM</text><line x1="359.41" y1="474" x2="359.41" y2="475.4" class="tk"/><text transform="translate(359.41,479.7) scale(1,1.12)" class="xl">2.5µM</text><line x1="381.79" y1="474" x2="381.79" y2="475.4" class="tk"/><text transform="translate(381.79,479.7) scale(1,1.12)" class="xl">10µM</text><line x1="404.17" y1="474" x2="404.17" y2="475.4" class="tk"/><text transform="translate(404.17,479.7) scale(1,1.12)" class="xl">50µM</text><text x="370.6" y="394.2" class="ti">Compound_17-AAG 48Hr</text><text x="370.6" y="491.5" class="xt">Drug Concentration</text><text transform="translate(307.3,435.8) rotate(-90)" class="yt">CtAmp</text><path d="M337.03 432 L359.41 448.4" class="ln"/><path d="M336.38 423.5H338.62M337.5 423.5V440.5M336.38 440.5H338.62" class="eb"/><circle cx="337.03" cy="432" r="3.3"/><circle cx="359.41" cy="448.4" r="3.3"/><text transform="translate(337.03,469.5) scale(1,1.3)" class="q">1Q</text><text transform="translate(359.41,469.5) scale(1,1.3)" class="q">6Q</text><text transform="translate(381.79,469.5) scale(1,1.3)" class="q">6Q</text><text transform="translate(404.17,469.5) scale(1,1.3)" class="q">6Q</text></g>
<g><line x1="457.6" y1="397.6" x2="551" y2="397.6" class="fr"/><line x1="551" y1="397.6" x2="551" y2="474" class="fr2"/><path d="M457.6 397.6V474H551" class="ax"/><line x1="456" y1="401.4" x2="457.6" y2="401.4" class="tk"/><text x="455.8" y="404" class="tl">150</text><line x1="456" y1="418.7" x2="457.6" y2="418.7" class="tk"/><text x="455.8" y="421.3" class="tl">125</text><line x1="456" y1="436" x2="457.6" y2="436" class="tk"/><text x="455.8" y="438.6" class="tl">100</text><line x1="456" y1="453.5" x2="457.6" y2="453.5" class="tk"/><text x="455.8" y="456.1" class="tl">75</text><line x1="456" y1="471" x2="457.6" y2="471" class="tk"/><text x="455.8" y="473.6" class="tl">50</text><line x1="470.94" y1="474" x2="470.94" y2="475.4" class="tk"/><text transform="translate(470.94,479.7) scale(1,1.12)" class="xl">0.25µM</text><line x1="493.18" y1="474" x2="493.18" y2="475.4" class="tk"/><text transform="translate(493.18,479.7) scale(1,1.12)" class="xl">2.5µM</text><line x1="515.42" y1="474" x2="515.42" y2="475.4" class="tk"/><text transform="translate(515.42,479.7) scale(1,1.12)" class="xl">10µM</text><line x1="537.66" y1="474" x2="537.66" y2="475.4" class="tk"/><text transform="translate(537.66,479.7) scale(1,1.12)" class="xl">50µM</text><text x="504.3" y="394.2" class="ti">Compound_17-AAG 48Hr</text><text x="504.3" y="491.5" class="xt">Drug Concentration</text><text transform="translate(441.3,435.8) rotate(-90)" class="yt">CtTrise</text><path d="M470.94 423.4 L493.18 448" class="ln"/><path d="M469.39 409.5H471.61M470.5 409.5V437.5M469.39 437.5H471.61" class="eb" style="stroke:#999"/><path d="M492.39 441.5H494.61M493.5 441.5V454.5M492.39 454.5H494.61" class="eb"/><circle cx="470.94" cy="423.4" r="3.3"/><circle cx="493.18" cy="448" r="3.3"/><text transform="translate(470.94,469.5) scale(1,1.3)" class="q">1Q</text><text transform="translate(493.18,469.5) scale(1,1.3)" class="q">6Q</text><text transform="translate(515.42,469.5) scale(1,1.3)" class="q">6Q</text><text transform="translate(537.66,469.5) scale(1,1.3)" class="q">6Q</text></g>
<g><line x1="592.4" y1="397.6" x2="684.6" y2="397.6" class="fr"/><line x1="684.6" y1="397.6" x2="684.6" y2="474" class="fr2"/><path d="M592.4 397.6V474H684.6" class="ax"/><line x1="590.8" y1="401.4" x2="592.4" y2="401.4" class="tk"/><text x="590.6" y="404" class="tl">150</text><line x1="590.8" y1="420" x2="592.4" y2="420" class="tk"/><text x="590.6" y="422.6" class="tl">120</text><line x1="590.8" y1="438.6" x2="592.4" y2="438.6" class="tk"/><text x="590.6" y="441.2" class="tl">90</text><line x1="590.8" y1="457.4" x2="592.4" y2="457.4" class="tk"/><text x="590.6" y="460" class="tl">60</text><line x1="605.57" y1="474" x2="605.57" y2="475.4" class="tk"/><text transform="translate(605.57,479.7) scale(1,1.12)" class="xl">0.25µM</text><line x1="627.52" y1="474" x2="627.52" y2="475.4" class="tk"/><text transform="translate(627.52,479.7) scale(1,1.12)" class="xl">2.5µM</text><line x1="649.48" y1="474" x2="649.48" y2="475.4" class="tk"/><text transform="translate(649.48,479.7) scale(1,1.12)" class="xl">10µM</text><line x1="671.43" y1="474" x2="671.43" y2="475.4" class="tk"/><text transform="translate(671.43,479.7) scale(1,1.12)" class="xl">50µM</text><text x="638.5" y="394.2" class="ti">Compound_17-AAG 48Hr</text><text x="638.5" y="491.5" class="xt">Drug Concentration</text><text transform="translate(574.8,435.8) rotate(-90)" class="yt">CtD<tspan class="sb" dy="1.8">90</tspan></text><path d="M605.57 443 L627.52 468.6" class="ln"/><path d="M604.4 439.5H606.6M605.5 439.5V447.5M604.4 447.5H606.6" class="eb"/><circle cx="605.57" cy="443" r="3.3"/><circle cx="627.52" cy="468.6" r="3.3"/><text transform="translate(605.57,469.5) scale(1,1.3)" class="q">1Q</text><text transform="translate(627.52,469.5) scale(1,1.3)" class="q">6Q</text><text transform="translate(649.48,469.5) scale(1,1.3)" class="q">6Q</text><text transform="translate(671.43,469.5) scale(1,1.3)" class="q">6Q</text></g>
<g><line x1="155.4" y1="525.6" x2="155.4" y2="602" class="fr2"/><path d="M61.6 525.6V602H155.4" class="ax"/><line x1="60" y1="528" x2="61.6" y2="528" class="tk"/><text x="59.8" y="530.6" class="tl">150</text><line x1="60" y1="545.5" x2="61.6" y2="545.5" class="tk"/><text x="59.8" y="548.1" class="tl">125</text><line x1="60" y1="563" x2="61.6" y2="563" class="tk"/><text x="59.8" y="565.6" class="tl">100</text><line x1="60" y1="580.5" x2="61.6" y2="580.5" class="tk"/><text x="59.8" y="583.1" class="tl">75</text><line x1="60" y1="598" x2="61.6" y2="598" class="tk"/><text x="59.8" y="600.6" class="tl">50</text><line x1="108.5" y1="602" x2="108.5" y2="603.4" class="tk"/><text transform="translate(108.5,607.7) scale(1,1.12)" class="xl">3nM</text><text x="108.5" y="522.2" class="ti">Dofetilide 48Hr</text><text x="108.5" y="618.9" class="xt">Drug Concentration</text><text transform="translate(45.3,563.8) rotate(-90)" class="yt">Cycle Length</text><path d="M104.59 562.5H112.41M108.5 562.5V568.5M104.59 568.5H112.41" class="eb"/><circle cx="108.5" cy="565.4" r="3.3"/><line x1="61.6" y1="549.5" x2="155.4" y2="549.5" class="rd"/><line x1="61.6" y1="577.5" x2="155.4" y2="577.5" class="rd"/><text transform="translate(108.5,592) scale(1,1.3)" class="q">1 EAD</text><text transform="translate(108.5,597) scale(1,1.3)" class="q">1Q</text></g>
<g><line x1="288" y1="525.6" x2="288" y2="602" class="fr2"/><path d="M196.4 525.6V602H288" class="ax"/><line x1="194.8" y1="528" x2="196.4" y2="528" class="tk"/><text x="194.6" y="530.6" class="tl">150</text><line x1="194.8" y1="545.5" x2="196.4" y2="545.5" class="tk"/><text x="194.6" y="548.1" class="tl">125</text><line x1="194.8" y1="563" x2="196.4" y2="563" class="tk"/><text x="194.6" y="565.6" class="tl">100</text><line x1="194.8" y1="580.5" x2="196.4" y2="580.5" class="tk"/><text x="194.6" y="583.1" class="tl">75</text><line x1="194.8" y1="598" x2="196.4" y2="598" class="tk"/><text x="194.6" y="600.6" class="tl">50</text><line x1="242.2" y1="602" x2="242.2" y2="603.4" class="tk"/><text transform="translate(242.2,607.7) scale(1,1.12)" class="xl">3nM</text><text x="242.2" y="522.2" class="ti">Dofetilide 48Hr</text><text x="242.2" y="618.9" class="xt">Drug Concentration</text><text transform="translate(178.8,563.8) rotate(-90)" class="yt">APD<tspan class="sb" dy="1.8">30</tspan></text><path d="M238.68 553.5H246.32M242.5 553.5V558.5M238.68 558.5H246.32" class="eb"/><circle cx="242.2" cy="556" r="3.3"/><line x1="196.4" y1="549.5" x2="288" y2="549.5" class="rd"/><line x1="196.4" y1="577.5" x2="288" y2="577.5" class="rd"/><text transform="translate(242.2,592) scale(1,1.3)" class="q">1 EAD</text><text transform="translate(242.2,597) scale(1,1.3)" class="q">1Q</text></g>
<g><line x1="418.4" y1="525.6" x2="418.4" y2="602" class="fr2"/><path d="M326 525.6V602H418.4" class="ax"/><line x1="324.4" y1="528.4" x2="326" y2="528.4" class="tk"/><text x="324.2" y="531" class="tl">200</text><line x1="324.4" y1="551.8" x2="326" y2="551.8" class="tk"/><text x="324.2" y="554.4" class="tl">150</text><line x1="324.4" y1="575.3" x2="326" y2="575.3" class="tk"/><text x="324.2" y="577.9" class="tl">100</text><line x1="324.4" y1="598.8" x2="326" y2="598.8" class="tk"/><text x="324.2" y="601.4" class="tl">50</text><line x1="372.2" y1="602" x2="372.2" y2="603.4" class="tk"/><text transform="translate(372.2,607.7) scale(1,1.12)" class="xl">3nM</text><text x="372.2" y="522.2" class="ti">Dofetilide 48Hr</text><text x="372.2" y="618.9" class="xt">Drug Concentration</text><text transform="translate(308.4,563.8) rotate(-90)" class="yt">APD<tspan class="sb" dy="1.8">50</tspan></text><path d="M368.65 545.5H376.35M372.5 545.5V551.5M368.65 551.5H376.35" class="eb"/><circle cx="372.2" cy="548.6" r="3.3"/><line x1="326" y1="565.5" x2="418.4" y2="565.5" class="rd"/><line x1="326" y1="584.5" x2="418.4" y2="584.5" class="rd"/><use href="#star" x="367.35" y="540.6"/><use href="#star" x="372.2" y="540.6"/><use href="#star" x="377.05" y="540.6"/><text transform="translate(372.2,592) scale(1,1.3)" class="q">1 EAD</text><text transform="translate(372.2,597) scale(1,1.3)" class="q">1Q</text></g>
<g><line x1="550.4" y1="525.6" x2="550.4" y2="602" class="fr2"/><path d="M459 525.6V602H550.4" class="ax"/><line x1="457.4" y1="528.4" x2="459" y2="528.4" class="tk"/><text x="457.2" y="531" class="tl">250</text><line x1="457.4" y1="546" x2="459" y2="546" class="tk"/><text x="457.2" y="548.6" class="tl">200</text><line x1="457.4" y1="563.6" x2="459" y2="563.6" class="tk"/><text x="457.2" y="566.2" class="tl">150</text><line x1="457.4" y1="581.2" x2="459" y2="581.2" class="tk"/><text x="457.2" y="583.8" class="tl">100</text><line x1="457.4" y1="598.8" x2="459" y2="598.8" class="tk"/><text x="457.2" y="601.4" class="tl">50</text><line x1="504.7" y1="602" x2="504.7" y2="603.4" class="tk"/><text transform="translate(504.7,607.7) scale(1,1.12)" class="xl">3nM</text><text x="504.7" y="522.2" class="ti">Dofetilide 48Hr</text><text x="504.7" y="618.9" class="xt">Drug Concentration</text><text transform="translate(441.4,563.8) rotate(-90)" class="yt">APD<tspan class="sb" dy="1.8">90</tspan></text><path d="M500.69 549.5H508.31M504.5 549.5V555.5M500.69 555.5H508.31" class="eb"/><circle cx="504.7" cy="552" r="3.3"/><line x1="459" y1="573.5" x2="550.4" y2="573.5" class="rd"/><line x1="459" y1="588" x2="550.4" y2="588" class="rd"/><use href="#star" x="499.85" y="544"/><use href="#star" x="504.7" y="544"/><use href="#star" x="509.55" y="544"/><text transform="translate(504.7,593) scale(1,1.3)" class="q">1 EAD</text><text transform="translate(504.7,597.4) scale(1,1.3)" class="q">1Q</text></g>
<g><line x1="684.4" y1="525.6" x2="684.4" y2="602" class="fr2"/><path d="M590.6 525.6V602H684.4" class="ax"/><line x1="589" y1="528" x2="590.6" y2="528" class="tk"/><text x="588.8" y="530.6" class="tl">150</text><line x1="589" y1="545.5" x2="590.6" y2="545.5" class="tk"/><text x="588.8" y="548.1" class="tl">125</text><line x1="589" y1="563" x2="590.6" y2="563" class="tk"/><text x="588.8" y="565.6" class="tl">100</text><line x1="589" y1="580.5" x2="590.6" y2="580.5" class="tk"/><text x="588.8" y="583.1" class="tl">75</text><line x1="589" y1="598" x2="590.6" y2="598" class="tk"/><text x="588.8" y="600.6" class="tl">50</text><line x1="637.5" y1="602" x2="637.5" y2="603.4" class="tk"/><text transform="translate(637.5,607.7) scale(1,1.12)" class="xl">3nM</text><text x="637.5" y="522.2" class="ti">Dofetilide 48Hr</text><text x="637.5" y="618.9" class="xt">Drug Concentration</text><text transform="translate(574.3,563.8) rotate(-90)" class="yt">TRise</text><path d="M633.59 565.5H641.41M637.5 565.5V571.5M633.59 571.5H641.41" class="eb"/><circle cx="637.5" cy="568.6" r="3.3"/><line x1="590.6" y1="549.5" x2="684.4" y2="549.5" class="rd"/><line x1="590.6" y1="577.5" x2="684.4" y2="577.5" class="rd"/><text transform="translate(637.5,592.4) scale(1,1.3)" class="q">1 EAD</text><text transform="translate(637.5,597) scale(1,1.3)" class="q">1Q</text></g>
<g><line x1="62.4" y1="644" x2="155.6" y2="644" class="fr"/><line x1="155.6" y1="644" x2="155.6" y2="721" class="fr2"/><path d="M62.4 644V721H155.6" class="ax"/><line x1="60.8" y1="647" x2="62.4" y2="647" class="tk"/><text x="60.6" y="649.6" class="tl">400</text><line x1="60.8" y1="667.2" x2="62.4" y2="667.2" class="tk"/><text x="60.6" y="669.8" class="tl">300</text><line x1="60.8" y1="687.4" x2="62.4" y2="687.4" class="tk"/><text x="60.6" y="690" class="tl">200</text><line x1="60.8" y1="707.6" x2="62.4" y2="707.6" class="tk"/><text x="60.6" y="710.2" class="tl">100</text><line x1="109" y1="721" x2="109" y2="722.4" class="tk"/><text transform="translate(109,726.7) scale(1,1.12)" class="xl">3nM</text><text x="109" y="640.6" class="ti">Dofetilide 48Hr</text><text x="109" y="737.9" class="xt">Drug Concentration</text><text transform="translate(46.1,682.5) rotate(-90)" class="yt">Triangulation</text><path d="M105.62 666.5H113.38M109.5 666.5V671.5M105.62 671.5H113.38" class="eb"/><circle cx="109" cy="669" r="3.3"/><line x1="62.4" y1="703.5" x2="155.6" y2="703.5" class="rd"/><line x1="62.4" y1="711.5" x2="155.6" y2="711.5" class="rd"/><use href="#star" x="104.15" y="661"/><use href="#star" x="109" y="661"/><use href="#star" x="113.85" y="661"/><text transform="translate(109,708.6) scale(1,1.3)" class="q">1 EAD</text><text transform="translate(109,716) scale(1,1.3)" class="q">1Q</text></g>
<g><line x1="194" y1="644" x2="287.6" y2="644" class="fr"/><line x1="287.6" y1="644" x2="287.6" y2="721" class="fr2"/><path d="M194 644V721H287.6" class="ax"/><line x1="192.4" y1="647" x2="194" y2="647" class="tk"/><text x="192.2" y="649.6" class="tl">150</text><line x1="192.4" y1="664.6" x2="194" y2="664.6" class="tk"/><text x="192.2" y="667.2" class="tl">125</text><line x1="192.4" y1="682.2" x2="194" y2="682.2" class="tk"/><text x="192.2" y="684.8" class="tl">100</text><line x1="192.4" y1="699.8" x2="194" y2="699.8" class="tk"/><text x="192.2" y="702.4" class="tl">75</text><line x1="192.4" y1="717.4" x2="194" y2="717.4" class="tk"/><text x="192.2" y="720" class="tl">50</text><line x1="240.8" y1="721" x2="240.8" y2="722.4" class="tk"/><text transform="translate(240.8,726.7) scale(1,1.12)" class="xl">3nM</text><text x="240.8" y="640.6" class="ti">Dofetilide 48Hr</text><text x="240.8" y="737.9" class="xt">Drug Concentration</text><text transform="translate(177.7,682.5) rotate(-90)" class="yt">Diastolic Interval</text><path d="M236.6 711.5H244.4M240.5 711.5V718.5M236.6 718.5H244.4" class="eb"/><circle cx="240.8" cy="714.6" r="3.3"/><line x1="194" y1="668.5" x2="287.6" y2="668.5" class="rd"/><line x1="194" y1="696.5" x2="287.6" y2="696.5" class="rd"/><use href="#star" x="235.95" y="707"/><use href="#star" x="240.8" y="707"/><use href="#star" x="245.65" y="707"/><text transform="translate(240.8,703.4) scale(1,1.3)" class="q">1 EAD</text><text transform="translate(240.8,716.2) scale(1,1.3)" class="q">1Q</text></g>
<g><line x1="326.4" y1="644" x2="419.6" y2="644" class="fr"/><line x1="419.6" y1="644" x2="419.6" y2="721" class="fr2"/><path d="M326.4 644V721H419.6" class="ax"/><line x1="324.8" y1="645.6" x2="326.4" y2="645.6" class="tk"/><text x="324.6" y="648.2" class="tl">175</text><line x1="324.8" y1="660" x2="326.4" y2="660" class="tk"/><text x="324.6" y="662.6" class="tl">150</text><line x1="324.8" y1="674.4" x2="326.4" y2="674.4" class="tk"/><text x="324.6" y="677" class="tl">125</text><line x1="324.8" y1="688.8" x2="326.4" y2="688.8" class="tk"/><text x="324.6" y="691.4" class="tl">100</text><line x1="324.8" y1="703.2" x2="326.4" y2="703.2" class="tk"/><text x="324.6" y="705.8" class="tl">75</text><line x1="324.8" y1="717.6" x2="326.4" y2="717.6" class="tk"/><text x="324.6" y="720.2" class="tl">50</text><line x1="373" y1="721" x2="373" y2="722.4" class="tk"/><text transform="translate(373,726.7) scale(1,1.12)" class="xl">3nM</text><text x="373" y="640.6" class="ti">Dofetilide 48Hr</text><text x="373" y="737.9" class="xt">Drug Concentration</text><text transform="translate(310.1,682.5) rotate(-90)" class="yt">CtAmp</text><path d="M369.62 647.5H377.38M373.5 647.5V678.5M369.62 678.5H377.38" class="eb"/><circle cx="373" cy="663" r="3.3"/><text transform="translate(373,711) scale(1,1.3)" class="q">1 EAD</text><text transform="translate(373,716) scale(1,1.3)" class="q">1Q</text></g>
<g><line x1="455.4" y1="644" x2="548.6" y2="644" class="fr"/><line x1="548.6" y1="644" x2="548.6" y2="721" class="fr2"/><path d="M455.4 644V721H548.6" class="ax"/><line x1="453.8" y1="647" x2="455.4" y2="647" class="tk"/><text x="453.6" y="649.6" class="tl">150</text><line x1="453.8" y1="664.6" x2="455.4" y2="664.6" class="tk"/><text x="453.6" y="667.2" class="tl">125</text><line x1="453.8" y1="682.2" x2="455.4" y2="682.2" class="tk"/><text x="453.6" y="684.8" class="tl">100</text><line x1="453.8" y1="699.8" x2="455.4" y2="699.8" class="tk"/><text x="453.6" y="702.4" class="tl">75</text><line x1="453.8" y1="717.4" x2="455.4" y2="717.4" class="tk"/><text x="453.6" y="720" class="tl">50</text><line x1="502" y1="721" x2="502" y2="722.4" class="tk"/><text transform="translate(502,726.7) scale(1,1.12)" class="xl">3nM</text><text x="502" y="640.6" class="ti">Dofetilide 48Hr</text><text x="502" y="737.9" class="xt">Drug Concentration</text><text transform="translate(439.1,682.5) rotate(-90)" class="yt">CtTrise</text><path d="M498.62 690.5H506.38M502.5 690.5V706.5M498.62 706.5H506.38" class="eb"/><circle cx="502" cy="698" r="3.3"/><text transform="translate(502,711) scale(1,1.3)" class="q">1 EAD</text><text transform="translate(502,716) scale(1,1.3)" class="q">1Q</text></g>
<g><line x1="591" y1="644" x2="683.6" y2="644" class="fr"/><line x1="683.6" y1="644" x2="683.6" y2="721" class="fr2"/><path d="M591 644V721H683.6" class="ax"/><line x1="589.4" y1="647" x2="591" y2="647" class="tk"/><text x="589.2" y="649.6" class="tl">150</text><line x1="589.4" y1="664.6" x2="591" y2="664.6" class="tk"/><text x="589.2" y="667.2" class="tl">125</text><line x1="589.4" y1="682.2" x2="591" y2="682.2" class="tk"/><text x="589.2" y="684.8" class="tl">100</text><line x1="589.4" y1="699.8" x2="591" y2="699.8" class="tk"/><text x="589.2" y="702.4" class="tl">75</text><line x1="589.4" y1="717.4" x2="591" y2="717.4" class="tk"/><text x="589.2" y="720" class="tl">50</text><line x1="637.3" y1="721" x2="637.3" y2="722.4" class="tk"/><text transform="translate(637.3,726.7) scale(1,1.12)" class="xl">3nM</text><text x="637.3" y="640.6" class="ti">Dofetilide 48Hr</text><text x="637.3" y="737.9" class="xt">Drug Concentration</text><text transform="translate(573.4,682.5) rotate(-90)" class="yt">CtD<tspan class="sb" dy="1.8">90</tspan></text><path d="M633.64 671.5H641.36M637.5 671.5V682.5M633.64 682.5H641.36" class="eb"/><circle cx="637.3" cy="677" r="3.3"/><text transform="translate(637.3,711) scale(1,1.3)" class="q">1 EAD</text><text transform="translate(637.3,716) scale(1,1.3)" class="q">1Q</text></g>
<g><line x1="62.6" y1="774.4" x2="156.4" y2="774.4" class="fr"/><line x1="156.4" y1="774.4" x2="156.4" y2="850.4" class="fr2"/><path d="M62.6 774.4V850.4H156.4" class="ax"/><line x1="61" y1="778" x2="62.6" y2="778" class="tk"/><text x="60.8" y="780.6" class="tl">150</text><line x1="61" y1="795.3" x2="62.6" y2="795.3" class="tk"/><text x="60.8" y="797.9" class="tl">125</text><line x1="61" y1="812.6" x2="62.6" y2="812.6" class="tk"/><text x="60.8" y="815.2" class="tl">100</text><line x1="61" y1="829.9" x2="62.6" y2="829.9" class="tk"/><text x="60.8" y="832.5" class="tl">75</text><line x1="61" y1="847.2" x2="62.6" y2="847.2" class="tk"/><text x="60.8" y="849.8" class="tl">50</text><line x1="109.5" y1="850.4" x2="109.5" y2="851.8" class="tk"/><text transform="translate(109.5,856.1) scale(1,1.12)" class="xl">0.3µM</text><text x="109.5" y="771" class="ti">Doxorubicin 48hr</text><text x="109.5" y="867.9" class="xt">Drug Concentration</text><text transform="translate(46.3,812.4) rotate(-90)" class="yt">Cycle Length</text><path d="M105.59 817.5H113.41M109.5 817.5V831.5M105.59 831.5H113.41" class="eb"/><circle cx="109.5" cy="824" r="3.3"/><line x1="62.6" y1="798.5" x2="156.4" y2="798.5" class="rd"/><line x1="62.6" y1="826.5" x2="156.4" y2="826.5" class="rd"/></g>
<g><line x1="194.4" y1="774.4" x2="286.4" y2="774.4" class="fr"/><line x1="286.4" y1="774.4" x2="286.4" y2="850.4" class="fr2"/><path d="M194.4 774.4V850.4H286.4" class="ax"/><line x1="192.8" y1="778" x2="194.4" y2="778" class="tk"/><text x="192.6" y="780.6" class="tl">150</text><line x1="192.8" y1="795.3" x2="194.4" y2="795.3" class="tk"/><text x="192.6" y="797.9" class="tl">125</text><line x1="192.8" y1="812.6" x2="194.4" y2="812.6" class="tk"/><text x="192.6" y="815.2" class="tl">100</text><line x1="192.8" y1="829.9" x2="194.4" y2="829.9" class="tk"/><text x="192.6" y="832.5" class="tl">75</text><line x1="192.8" y1="847.2" x2="194.4" y2="847.2" class="tk"/><text x="192.6" y="849.8" class="tl">50</text><line x1="240.4" y1="850.4" x2="240.4" y2="851.8" class="tk"/><text transform="translate(240.4,856.1) scale(1,1.12)" class="xl">0.3µM</text><text x="240.4" y="771" class="ti">Doxorubicin 48hr</text><text x="240.4" y="867.9" class="xt">Drug Concentration</text><text transform="translate(176.8,812.4) rotate(-90)" class="yt">APD<tspan class="sb" dy="1.8">30</tspan></text><path d="M236.67 823.5H244.33M240.5 823.5V833.5M236.67 833.5H244.33" class="eb"/><circle cx="240.4" cy="828.6" r="3.3"/><line x1="194.4" y1="798.5" x2="286.4" y2="798.5" class="rd"/><line x1="194.4" y1="826.5" x2="286.4" y2="826.5" class="rd"/><use href="#star" x="240.4" y="818.6"/></g>
<g><line x1="326.4" y1="774.4" x2="418.4" y2="774.4" class="fr"/><line x1="418.4" y1="774.4" x2="418.4" y2="850.4" class="fr2"/><path d="M326.4 774.4V850.4H418.4" class="ax"/><line x1="324.8" y1="778" x2="326.4" y2="778" class="tk"/><text x="324.6" y="780.6" class="tl">150</text><line x1="324.8" y1="795.3" x2="326.4" y2="795.3" class="tk"/><text x="324.6" y="797.9" class="tl">125</text><line x1="324.8" y1="812.6" x2="326.4" y2="812.6" class="tk"/><text x="324.6" y="815.2" class="tl">100</text><line x1="324.8" y1="829.9" x2="326.4" y2="829.9" class="tk"/><text x="324.6" y="832.5" class="tl">75</text><line x1="324.8" y1="847.2" x2="326.4" y2="847.2" class="tk"/><text x="324.6" y="849.8" class="tl">50</text><line x1="372.4" y1="850.4" x2="372.4" y2="851.8" class="tk"/><text transform="translate(372.4,856.1) scale(1,1.12)" class="xl">0.3µM</text><text x="372.4" y="771" class="ti">Doxorubicin 48hr</text><text x="372.4" y="867.9" class="xt">Drug Concentration</text><text transform="translate(308.8,812.4) rotate(-90)" class="yt">APD<tspan class="sb" dy="1.8">50</tspan></text><path d="M368.67 819.5H376.33M372.5 819.5V824.5M368.67 824.5H376.33" class="eb"/><circle cx="372.4" cy="822" r="3.3"/><line x1="326.4" y1="798.5" x2="418.4" y2="798.5" class="rd"/><line x1="326.4" y1="826.5" x2="418.4" y2="826.5" class="rd"/><use href="#star" x="369.97" y="814.6"/><use href="#star" x="374.82" y="814.6"/></g>
<g><line x1="457" y1="774.4" x2="549" y2="774.4" class="fr"/><line x1="549" y1="774.4" x2="549" y2="850.4" class="fr2"/><path d="M457 774.4V850.4H549" class="ax"/><line x1="455.4" y1="778" x2="457" y2="778" class="tk"/><text x="455.2" y="780.6" class="tl">150</text><line x1="455.4" y1="795.3" x2="457" y2="795.3" class="tk"/><text x="455.2" y="797.9" class="tl">125</text><line x1="455.4" y1="812.6" x2="457" y2="812.6" class="tk"/><text x="455.2" y="815.2" class="tl">100</text><line x1="455.4" y1="829.9" x2="457" y2="829.9" class="tk"/><text x="455.2" y="832.5" class="tl">75</text><line x1="455.4" y1="847.2" x2="457" y2="847.2" class="tk"/><text x="455.2" y="849.8" class="tl">50</text><line x1="503" y1="850.4" x2="503" y2="851.8" class="tk"/><text transform="translate(503,856.1) scale(1,1.12)" class="xl">0.3µM</text><text x="503" y="771" class="ti">Doxorubicin 48hr</text><text x="503" y="867.9" class="xt">Drug Concentration</text><text transform="translate(439.4,812.4) rotate(-90)" class="yt">APD<tspan class="sb" dy="1.8">90</tspan></text><path d="M499.67 811.5H507.33M503.5 811.5V817.5M499.67 817.5H507.33" class="eb"/><circle cx="503" cy="814" r="3.3"/><line x1="457" y1="798.5" x2="549" y2="798.5" class="rd"/><line x1="457" y1="826.5" x2="549" y2="826.5" class="rd"/></g>
<g><line x1="587.6" y1="774.4" x2="681.6" y2="774.4" class="fr"/><line x1="681.6" y1="774.4" x2="681.6" y2="850.4" class="fr2"/><path d="M587.6 774.4V850.4H681.6" class="ax"/><line x1="586" y1="778" x2="587.6" y2="778" class="tk"/><text x="585.8" y="780.6" class="tl">200</text><line x1="586" y1="801" x2="587.6" y2="801" class="tk"/><text x="585.8" y="803.6" class="tl">150</text><line x1="586" y1="824" x2="587.6" y2="824" class="tk"/><text x="585.8" y="826.6" class="tl">100</text><line x1="586" y1="847.2" x2="587.6" y2="847.2" class="tk"/><text x="585.8" y="849.8" class="tl">50</text><line x1="634.6" y1="850.4" x2="634.6" y2="851.8" class="tk"/><text transform="translate(634.6,856.1) scale(1,1.12)" class="xl">0.3µM</text><text x="634.6" y="771" class="ti">Doxorubicin 48hr</text><text x="634.6" y="867.9" class="xt">Drug Concentration</text><text transform="translate(571.3,812.4) rotate(-90)" class="yt">TRise</text><path d="M630.58 797.5H638.42M634.5 797.5V810.5M630.58 810.5H638.42" class="eb"/><circle cx="634.6" cy="804" r="3.3"/><line x1="587.6" y1="815" x2="681.6" y2="815" class="rd"/><line x1="587.6" y1="833.5" x2="681.6" y2="833.5" class="rd"/><use href="#star" x="634.6" y="792"/></g>
<g><line x1="63.2" y1="893.4" x2="156.4" y2="893.4" class="fr"/><line x1="156.4" y1="893.4" x2="156.4" y2="969" class="fr2"/><path d="M63.2 893.4V969H156.4" class="ax"/><line x1="61.6" y1="896.6" x2="63.2" y2="896.6" class="tk"/><text x="61.4" y="899.2" class="tl">150</text><line x1="61.6" y1="914" x2="63.2" y2="914" class="tk"/><text x="61.4" y="916.6" class="tl">125</text><line x1="61.6" y1="931.4" x2="63.2" y2="931.4" class="tk"/><text x="61.4" y="934" class="tl">100</text><line x1="61.6" y1="948.6" x2="63.2" y2="948.6" class="tk"/><text x="61.4" y="951.2" class="tl">75</text><line x1="61.6" y1="966" x2="63.2" y2="966" class="tk"/><text x="61.4" y="968.6" class="tl">50</text><line x1="109.8" y1="969" x2="109.8" y2="970.4" class="tk"/><text transform="translate(109.8,974.7) scale(1,1.12)" class="xl">0.3µM</text><text x="109.8" y="890" class="ti">Doxorubicin 48hr</text><text x="109.8" y="986.5" class="xt">Drug Concentration</text><text transform="translate(46.9,931.2) rotate(-90)" class="yt">Triangulation</text><path d="M105.62 901.5H113.38M109.5 901.5V917.5M105.62 917.5H113.38" class="eb"/><circle cx="109.8" cy="909" r="3.3"/><line x1="63.2" y1="917.5" x2="156.4" y2="917.5" class="rd"/><line x1="63.2" y1="945.5" x2="156.4" y2="945.5" class="rd"/><use href="#star" x="109.8" y="896"/></g>
<g><line x1="191" y1="893.4" x2="284.4" y2="893.4" class="fr"/><line x1="284.4" y1="893.4" x2="284.4" y2="969" class="fr2"/><path d="M191 893.4V969H284.4" class="ax"/><line x1="189.4" y1="896.6" x2="191" y2="896.6" class="tk"/><text x="189.2" y="899.2" class="tl">150</text><line x1="189.4" y1="914" x2="191" y2="914" class="tk"/><text x="189.2" y="916.6" class="tl">125</text><line x1="189.4" y1="931.4" x2="191" y2="931.4" class="tk"/><text x="189.2" y="934" class="tl">100</text><line x1="189.4" y1="948.6" x2="191" y2="948.6" class="tk"/><text x="189.2" y="951.2" class="tl">75</text><line x1="189.4" y1="966" x2="191" y2="966" class="tk"/><text x="189.2" y="968.6" class="tl">50</text><line x1="237.7" y1="969" x2="237.7" y2="970.4" class="tk"/><text transform="translate(237.7,974.7) scale(1,1.12)" class="xl">0.3µM</text><text x="237.7" y="890" class="ti">Doxorubicin 48hr</text><text x="237.7" y="986.5" class="xt">Drug Concentration</text><text transform="translate(174.7,931.2) rotate(-90)" class="yt">Diastolic Interval</text><path d="M233.61 938.5H241.39M237.5 938.5V957.5M233.61 957.5H241.39" class="eb"/><circle cx="237.7" cy="948" r="3.3"/><line x1="191" y1="917.5" x2="284.4" y2="917.5" class="rd"/><line x1="191" y1="945.5" x2="284.4" y2="945.5" class="rd"/></g>
<g><line x1="323.6" y1="893.4" x2="418" y2="893.4" class="fr"/><line x1="418" y1="893.4" x2="418" y2="969" class="fr2"/><path d="M323.6 893.4V969H418" class="ax"/><line x1="322" y1="896.6" x2="323.6" y2="896.6" class="tk"/><text x="321.8" y="899.2" class="tl">200</text><line x1="322" y1="919.6" x2="323.6" y2="919.6" class="tk"/><text x="321.8" y="922.2" class="tl">150</text><line x1="322" y1="942.6" x2="323.6" y2="942.6" class="tk"/><text x="321.8" y="945.2" class="tl">100</text><line x1="322" y1="966" x2="323.6" y2="966" class="tk"/><text x="321.8" y="968.6" class="tl">50</text><line x1="370.8" y1="969" x2="370.8" y2="970.4" class="tk"/><text transform="translate(370.8,974.7) scale(1,1.12)" class="xl">0.3µM</text><text x="370.8" y="890" class="ti">Doxorubicin 48Hr</text><text x="370.8" y="986.5" class="xt">Drug Concentration</text><text transform="translate(307.3,931.2) rotate(-90)" class="yt">CtAmp</text><path d="M366.57 931.5H374.43M370.5 931.5V940.5M366.57 940.5H374.43" class="eb"/><circle cx="370.8" cy="936" r="3.3"/></g>
<g><line x1="453.6" y1="893.4" x2="547" y2="893.4" class="fr"/><line x1="547" y1="893.4" x2="547" y2="969" class="fr2"/><path d="M453.6 893.4V969H547" class="ax"/><line x1="452" y1="896.6" x2="453.6" y2="896.6" class="tk"/><text x="451.8" y="899.2" class="tl">150</text><line x1="452" y1="914" x2="453.6" y2="914" class="tk"/><text x="451.8" y="916.6" class="tl">125</text><line x1="452" y1="931.4" x2="453.6" y2="931.4" class="tk"/><text x="451.8" y="934" class="tl">100</text><line x1="452" y1="948.6" x2="453.6" y2="948.6" class="tk"/><text x="451.8" y="951.2" class="tl">75</text><line x1="452" y1="966" x2="453.6" y2="966" class="tk"/><text x="451.8" y="968.6" class="tl">50</text><line x1="500.3" y1="969" x2="500.3" y2="970.4" class="tk"/><text transform="translate(500.3,974.7) scale(1,1.12)" class="xl">0.3µM</text><text x="500.3" y="890" class="ti">Doxorubicin 48Hr</text><text x="500.3" y="986.5" class="xt">Drug Concentration</text><text transform="translate(437.3,931.2) rotate(-90)" class="yt">CtTrise</text><path d="M496.61 927.5H504.39M500.5 927.5V943.5M496.61 943.5H504.39" class="eb"/><circle cx="500.3" cy="935.4" r="3.3"/></g>
<g><line x1="588.6" y1="893.4" x2="680.6" y2="893.4" class="fr"/><line x1="680.6" y1="893.4" x2="680.6" y2="969" class="fr2"/><path d="M588.6 893.4V969H680.6" class="ax"/><line x1="587" y1="896.6" x2="588.6" y2="896.6" class="tk"/><text x="586.8" y="899.2" class="tl">150</text><line x1="587" y1="914" x2="588.6" y2="914" class="tk"/><text x="586.8" y="916.6" class="tl">125</text><line x1="587" y1="931.4" x2="588.6" y2="931.4" class="tk"/><text x="586.8" y="934" class="tl">100</text><line x1="587" y1="948.6" x2="588.6" y2="948.6" class="tk"/><text x="586.8" y="951.2" class="tl">75</text><line x1="587" y1="966" x2="588.6" y2="966" class="tk"/><text x="586.8" y="968.6" class="tl">50</text><line x1="634.6" y1="969" x2="634.6" y2="970.4" class="tk"/><text transform="translate(634.6,974.7) scale(1,1.12)" class="xl">0.3µM</text><text x="634.6" y="890" class="ti">Doxorubicin 48Hr</text><text x="634.6" y="986.5" class="xt">Drug Concentration</text><text transform="translate(571,931.2) rotate(-90)" class="yt">CtD<tspan class="sb" dy="1.8">90</tspan></text><path d="M630.67 948.5H638.33M634.5 948.5V957.5M630.67 957.5H638.33" class="eb"/><circle cx="634.6" cy="953" r="3.3"/><use href="#star" x="632.18" y="943.6"/><use href="#star" x="637.02" y="943.6"/></g>
<text x="-0.3" y="10.6" class="lb">A)</text>
<text x="0.3" y="272" class="lb">B)</text>
<text x="0.3" y="527.8" class="lb">C)</text>
<text x="0.5" y="782" class="lb">D)</text>
</svg></body></html>
